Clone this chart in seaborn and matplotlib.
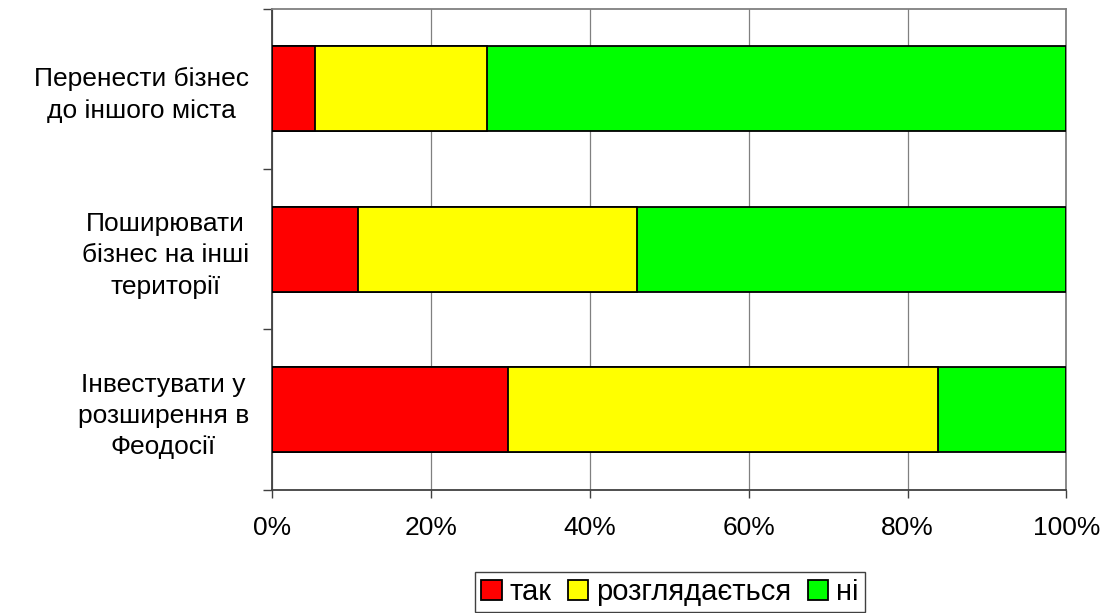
import numpy as np
import pandas as pd
import matplotlib
matplotlib.use("Agg")
import matplotlib.pyplot as plt
import seaborn as sns
from matplotlib.patches import Patch

# Chart data (percent)
categories = [
    "Перенести бізнес\nдо іншого міста",
    "Поширювати\nбізнес на інші\nтериторії",
    "Інвестувати у\nрозширення в\nФеодосії",
]
tak = [5.4, 10.8, 29.7]
rozglyad = [21.6, 35.1, 54.1]
ni = [73.0, 54.1, 16.2]
series_names = ["так", "розглядається", "ні"]
series_colors = ["#FF0000", "#FFFF00", "#00FF00"]
xtick_values = [0, 20, 40, 60, 80, 100]

sns.set_style("white")
plt.rcParams["font.family"] = ["Liberation Sans", "DejaVu Sans"]
plt.rcParams["font.size"] = 19
plt.rcParams["text.color"] = "black"
plt.rcParams["xtick.color"] = "black"
plt.rcParams["ytick.color"] = "black"

df = pd.DataFrame({"cat": categories, "tak": tak, "rozglyad": rozglyad, "ni": ni})
df["cum1"] = df["tak"]
df["cum2"] = df["tak"] + df["rozglyad"]
df["cum3"] = df["cum2"] + df["ni"]

fig = plt.figure(figsize=(11.03, 6.13), dpi=100)
ax = fig.add_axes([0.247, 0.2007, 0.7197, 0.7854])

# stacked bars: draw cumulative totals, widest first
for col, color in zip(["cum3", "cum2", "cum1"], series_colors[::-1]):
    sns.barplot(data=df, x=col, y="cat", orient="h", color=color,
                saturation=1, width=0.53, edgecolor="black", linewidth=1.3,
                ax=ax, zorder=3)

ax.set_xlim(0, 100)
ax.set_ylim(2.5, -0.5)
ax.set_xlabel("")
ax.set_ylabel("")
ax.set_xticks(xtick_values)
ax.set_xticklabels([f"{v}%" for v in xtick_values])
ax.xaxis.grid(True, color="#808080", linewidth=0.9)
ax.yaxis.grid(False)
ax.set_axisbelow(True)

ax.set_yticks([-0.5, 0.5, 1.5, 2.5], minor=True)
ax.tick_params(axis="y", which="major", length=0, pad=17)
ax.tick_params(axis="y", which="minor", length=6.5, width=1, color="#404040",
               direction="out", left=True)
ax.tick_params(axis="x", which="major", length=6, width=1, color="#404040",
               direction="out", bottom=True, pad=13)
for lbl in ax.get_yticklabels():
    lbl.set_multialignment("center")
    lbl.set_linespacing(1.38)
    lbl.set_color("black")

for side in ["left", "bottom"]:
    ax.spines[side].set_color("#404040")
    ax.spines[side].set_linewidth(1.3)
for side in ["top", "right"]:
    ax.spines[side].set_color("#808080")
    ax.spines[side].set_linewidth(1.3)

handles = [Patch(facecolor=c, edgecolor="black", linewidth=1.3) for c in series_colors]
leg = fig.legend(handles, series_names, loc="center", ncol=3,
                 bbox_to_anchor=(0.6074, 0.034), frameon=True, fancybox=False,
                 framealpha=1, edgecolor="#404040", fontsize=21,
                 handlelength=0.7, handleheight=0.7, handletextpad=0.28,
                 columnspacing=0.55, borderpad=0.2, borderaxespad=0)
leg.get_frame().set_linewidth(1)

fig.savefig("out.png", dpi=100)
